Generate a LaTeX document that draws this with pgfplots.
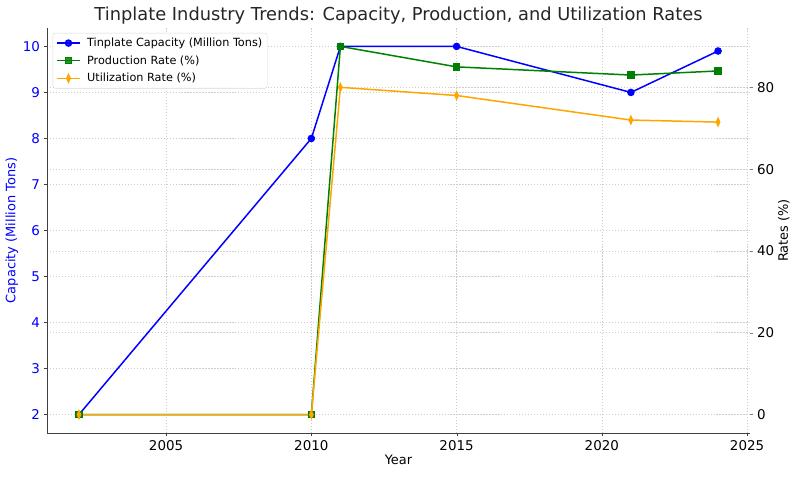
\documentclass[border=0pt]{standalone}
\usepackage{fontspec}
\setmainfont{DejaVu Sans}
\usepackage{pgfplots}
\pgfplotsset{compat=1.18}
\definecolor{cblue}{RGB}{0,0,255}
\definecolor{cgreen}{RGB}{0,128,0}
\definecolor{corange}{RGB}{255,165,0}
\definecolor{spine}{RGB}{64,64,64}
\definecolor{gridc}{RGB}{205,205,205}
\definecolor{legc}{RGB}{215,215,215}
\pgfplotsset{
  common/.style={
    at={(0,0)}, anchor=south west,
    scale only axis, width=703bp, height=405bp,
    xmin=2000.9, xmax=2025.1,
    set layers,
    tick align=outside,
    major tick length=3.5bp,
    grid style={gridc, dash pattern=on 1.2pt off 1.8pt, line width=0.6pt},
    /pgf/number format/assume math mode=true,
    tick label style={font=\fontsize{13.5}{15}\selectfont},
    label style={font=\fontsize{13}{15}\selectfont},
  },
  capstyle/.style={cblue, line width=1.5pt, mark=*, mark size=3bp},
  prodstyle/.style={cgreen, line width=1.5pt, mark=square*, mark size=3bp},
  utilstyle/.style={corange, line width=1.5pt, mark=diamond*, mark size=3.6bp, mark options={xscale=0.6}},
}
\begin{document}
\begin{tikzpicture}
\begin{axis}[
  common,
  ymin=1.6, ymax=10.4,
  axis x line*=bottom, axis y line*=left,
  axis line style={spine, line width=1pt},
  xtick={2005,2010,2015,2020,2025},
  ytick={2,3,4,5,6,7,8,9,10},
  x tick label style={/pgf/number format/1000 sep={}},
  y tick label style={cblue},
  xtick style={spine}, ytick style={spine},
  xmajorgrids, ymajorgrids,
  xlabel={Year},
  ylabel={Capacity (Million Tons)},
  ylabel style={cblue},
  xlabel style={yshift=2bp},
  ylabel style={yshift=-2bp},
  title={Tinplate Industry Trends: Capacity, Production, and Utilization Rates},
  title style={font=\fontsize{17.9}{20}\selectfont, color=black!85, yshift=-6bp},
]
\addplot[capstyle] coordinates {(2002,2) (2010,8) (2011,10) (2015,10) (2021,9) (2024,9.9)};
\end{axis}
\begin{axis}[
  common,
  ymin=-4.5, ymax=94.5,
  axis x line=none, axis y line*=right,
  axis line style={draw=none},
  ytick={0,20,40,60,80},
  ytick style={gray},
  ymajorgrids,
  ylabel={Rates (\%)},
  ylabel style={yshift=3bp},
  legend style={at={(0.008,0.988)}, anchor=north west, draw=legc, rounded corners=2.5bp,
    fill=white, fill opacity=0.85, text opacity=1,
    font=\fontsize{11.3}{13}\selectfont, row sep=3.6bp, inner sep=3bp,
    /tikz/every odd column/.append style={column sep=4bp}},
  legend cell align=left,
  legend image code/.code={\draw[mark repeat=2,mark phase=2,#1] plot coordinates {(0cm,0cm)(0.42cm,0cm)(0.84cm,0cm)};},
]
\addlegendimage{capstyle}
\addlegendentry{Tinplate Capacity (Million Tons)}
\addplot[prodstyle] coordinates {(2002,0) (2010,0) (2011,90) (2015,85) (2021,83) (2024,84)};
\addlegendentry{Production Rate (\%)}
\addplot[utilstyle] coordinates {(2002,0) (2010,0) (2011,80) (2015,78) (2021,72) (2024,71.5)};
\addlegendentry{Utilization Rate (\%)}
\end{axis}
\pgfresetboundingbox
\useasboundingbox (-47bp,-44bp) rectangle (753bp,433bp);
\end{tikzpicture}
\end{document}
